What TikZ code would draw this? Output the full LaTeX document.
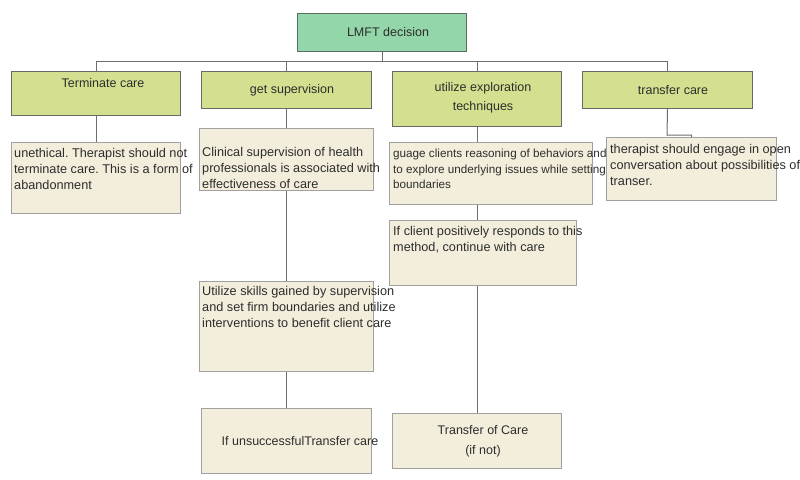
\documentclass[tikz,border=0pt]{standalone}
\usepackage{fontspec}
\setmainfont{Liberation Sans}
\frenchspacing
\definecolor{rootfill}{RGB}{146,214,170}
\definecolor{rootline}{RGB}{90,110,95}
\definecolor{lvlfill}{RGB}{212,224,143}
\definecolor{lvlline}{RGB}{105,105,105}
\definecolor{kidfill}{RGB}{243,238,220}
\definecolor{kidline}{RGB}{160,160,160}
\definecolor{conn}{RGB}{110,110,110}
\definecolor{txt}{RGB}{45,45,45}
\tikzset{
  rootbox/.style={draw=rootline, fill=rootfill, line width=1pt, anchor=north west, inner sep=0pt},
  lvlbox/.style={draw=lvlline, fill=lvlfill, line width=1pt, anchor=north west, inner sep=0pt},
  kidbox/.style={draw=kidline, fill=kidfill, line width=1pt, anchor=north west, inner sep=0pt},
  wire/.style={draw=conn, line width=1pt},
  lbl/.style={text=txt, inner sep=0pt, font=\fontsize{12.5}{16}\selectfont},
  para/.style={text=txt, inner sep=0pt, anchor=north west, align=left, font=\fontsize{12.7}{15.8}\selectfont},
}
\begin{document}
\begin{tikzpicture}[x=1pt,y=-1pt]
\useasboundingbox (0,0) rectangle (800,479);
% boxes
\node[rootbox, minimum width=169pt, minimum height=38pt] (root) at (297,13) {};
\node[lvlbox, minimum width=169pt, minimum height=44pt] (term) at (11,71) {};
\node[lvlbox, minimum width=170pt, minimum height=37pt] (sup) at (201,71) {};
\node[lvlbox, minimum width=169pt, minimum height=55pt] (expl) at (392,71) {};
\node[lvlbox, minimum width=170pt, minimum height=37pt] (trans) at (582,71) {};
\node[kidbox, minimum width=169pt, minimum height=71pt] (uneth) at (11,142) {};
\node[kidbox, minimum width=174pt, minimum height=62pt] (clin) at (199,128) {};
\node[kidbox, minimum width=203pt, minimum height=62pt] (guage) at (389,142) {};
\node[kidbox, minimum width=170pt, minimum height=63pt] (ther) at (606,137) {};
\node[kidbox, minimum width=187pt, minimum height=65pt] (pos) at (389,220) {};
\node[kidbox, minimum width=174pt, minimum height=90pt] (skills) at (199,281) {};
\node[kidbox, minimum width=170pt, minimum height=65pt] (unsucc) at (201,408) {};
\node[kidbox, minimum width=169pt, minimum height=55pt] (toc) at (392,413) {};
% connectors
\coordinate (bus) at ([yshift=-9pt]root.south);
\draw[wire] (root.south) -- (bus);
\draw[wire] (term.north) |- (bus);
\draw[wire] (sup.north) |- (bus);
\draw[wire] (expl.north) |- (bus);
\draw[wire] (trans.north) |- (bus);
\draw[wire] (term.south) -- (uneth.north -| term.south);
\draw[wire] (sup.south) -- (clin.north -| sup.south);
\draw[wire] (expl.south) -- (guage.north -| expl.south);
\coordinate (tj) at (667,135);
\draw[wire] (trans.south) -- (tj) -- (ther.north |- tj) -- (ther.north);
\draw[wire] (guage.south -| expl.south) -- (pos.north -| expl.south);
\draw[wire] (pos.south -| expl.south) -- (toc.north -| expl.south);
\draw[wire] (clin.south -| sup.south) -- (skills.north -| sup.south);
\draw[wire] (skills.south -| sup.south) -- (unsucc.north -| sup.south);
% texts
\node[lbl] (troot) at (388,32) {LMFT decision};
\node[lbl] (tterm) at (103,83) {Terminate care};
\node[lbl] (tsup) at (292,90) {get supervision};
\node[lbl, align=center, font=\fontsize{12.5}{19}\selectfont] (texpl) at (483,98) {utilize exploration\\techniques};
\node[lbl] (ttrans) at (673,90) {transfer care};
\node[para] (xuneth) at (14,148) {unethical. Therapist should not\\terminate care. This is a form of\\abandonment};
\node[para] (xclin) at (202,147) {Clinical supervision of health\\professionals is associated with\\effectiveness of care};
\node[para, font=\fontsize{11.7}{15.6}\selectfont] (xguage) at (393,149) {guage clients reasoning of behaviors and\\to explore underlying issues while setting\\boundaries};
\node[para] (xther) at (610,144) {therapist should engage in open\\conversation about possibilities of\\transer.};
\node[para] (xpos) at (393,226) {If client positively responds to this\\method, continue with care};
\node[para] (xskills) at (202,286) {Utilize skills gained by supervision\\and set firm boundaries and utilize\\interventions to benefit client care};
\node[lbl] (xunsucc) at (300,441) {If unsuccessfulTransfer care};
\node[lbl, align=center, font=\fontsize{12.5}{20}\selectfont] (xtoc) at (483,441) {Transfer of Care\\(if not)};
\end{tikzpicture}
\end{document}
